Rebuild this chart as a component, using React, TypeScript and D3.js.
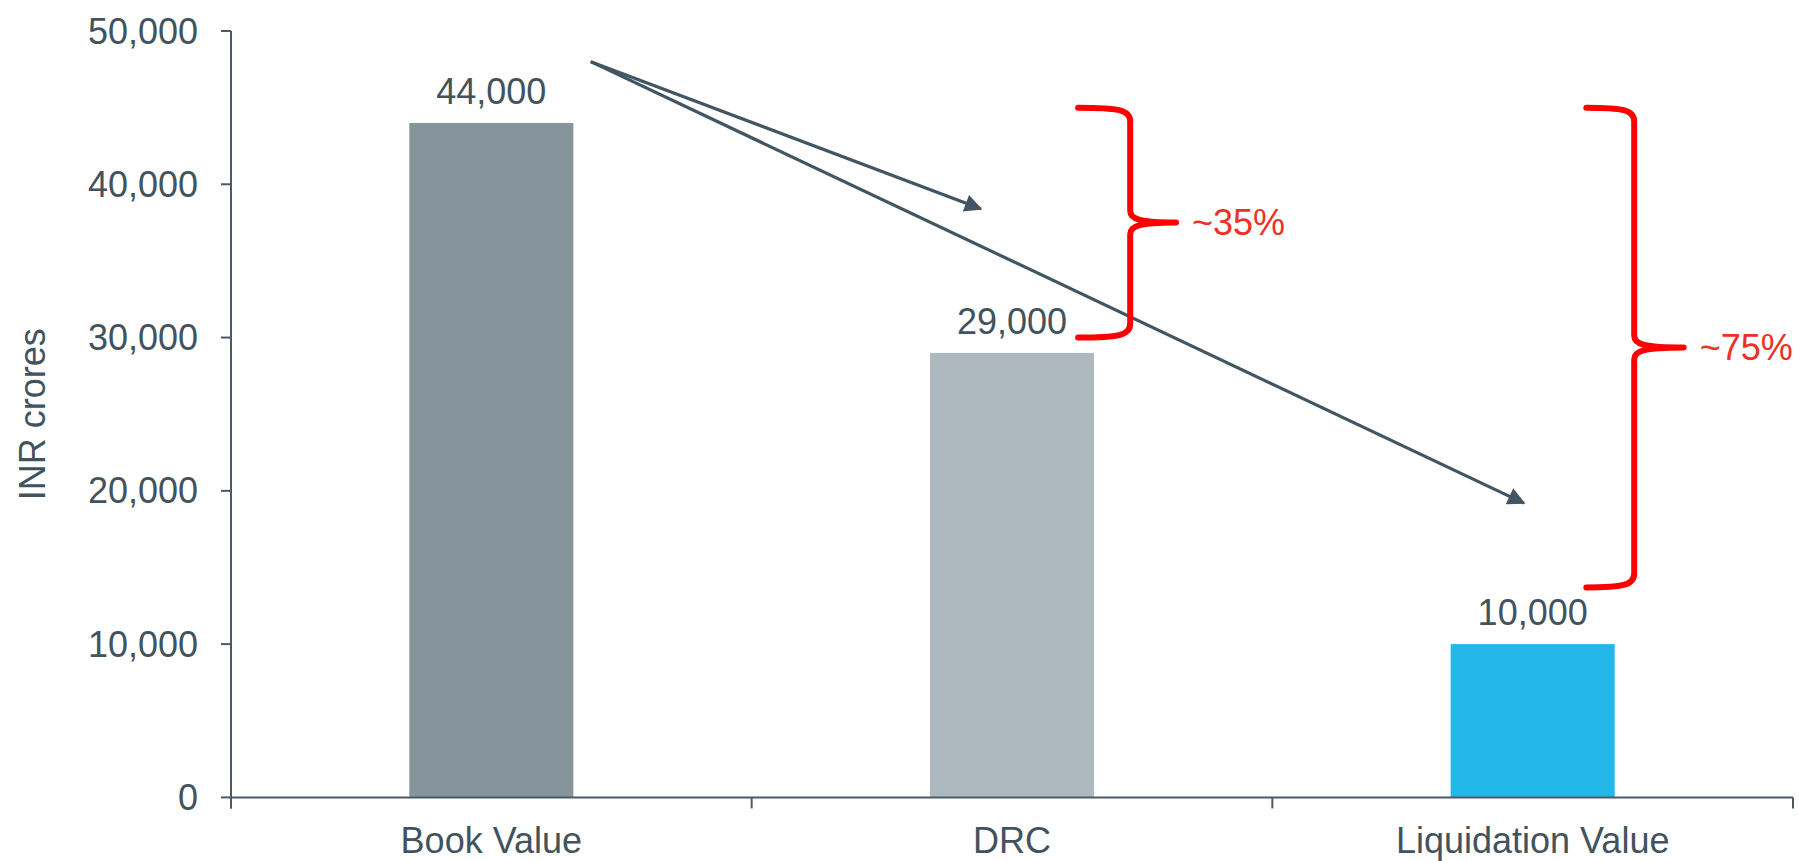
import React from "react";
import * as d3 from "d3";

// Recovery values, INR crores
const categories = ["Book Value", "DRC", "Liquidation Value"];
const values = [44000, 29000, 10000];
const barColors = ["#86949b", "#adb8bf", "#22b6e9"];
const yTicks = [0, 10000, 20000, 30000, 40000, 50000];

// Arrow annotations: anchored to a category band (fraction across band) and a value
const arrowStart = { cat: "Book Value", frac: 0.691, value: 48000 };
const arrowEnds = [
  { cat: "DRC", frac: 0.44, value: 38400 },
  { cat: "Liquidation Value", frac: 0.483, value: 19200 },
];

// Brace annotations with their haircut labels
const braces = [
  { cat: "DRC", endFrac: 0.627, spineFrac: 0.727, tipFrac: 0.815, top: 45000, bottom: 30000, label: "~35%" },
  { cat: "Liquidation Value", endFrac: 0.603, spineFrac: 0.695, tipFrac: 0.79, top: 45000, bottom: 13700, label: "~75%" },
];

const W = 1799;
const H = 861;
const M = { left: 231, right: 6, top: 31, bottom: 63.6 };
const FONT = "'Liberation Sans', Arial, sans-serif";
const TEXT = "#42535e";
const AXIS = "#4a5a66";
const ARROW = "#425563";
const RED = "#ff0000";
const RED_TEXT = "#ee3124";

export default function App() {
  const x = d3.scaleBand<string>().domain(categories).range([M.left, W - M.right]).padding(0);
  const y = d3.scaleLinear().domain([0, 50000]).range([H - M.bottom, M.top]);
  const bw = x.bandwidth();
  const barW = bw * 0.315;
  const fmt = d3.format(",");
  const px = (cat: string, frac: number) => (x(cat) as number) + bw * frac;

  const sx = px(arrowStart.cat, arrowStart.frac);
  const sy = y(arrowStart.value);

  const bracePath = (b: (typeof braces)[number]) => {
    const xe = px(b.cat, b.endFrac);
    const xs = px(b.cat, b.spineFrac);
    const xt = px(b.cat, b.tipFrac);
    const yT = y(b.top);
    const yB = y(b.bottom);
    const yM = (yT + yB) / 2;
    const p = d3.path();
    p.moveTo(xe, yT);
    p.bezierCurveTo(xs - 12, yT, xs, yT + 2, xs, yT + 14);
    p.lineTo(xs, yM - 12);
    p.bezierCurveTo(xs, yM - 3, xs + 10, yM, xt, yM);
    p.moveTo(xt, yM);
    p.bezierCurveTo(xs + 10, yM, xs, yM + 3, xs, yM + 12);
    p.lineTo(xs, yB - 14);
    p.bezierCurveTo(xs, yB - 2, xs - 12, yB, xe, yB);
    return { d: p.toString(), xt, yM };
  };

  const y0 = y(0);
  const xEdges = [...categories.map((c) => x(c) as number), W - M.right];

  return (
    <svg
      width={W}
      height={H}
      style={{ position: "absolute", left: 0, top: 0, background: "#fff" }}
      fontFamily={FONT}
    >
      <defs>
        <marker
          id="arrowHead"
          viewBox="0 0 10 10"
          refX="9"
          refY="5"
          markerWidth="6.5"
          markerHeight="5.5"
          markerUnits="strokeWidth"
          orient="auto"
        >
          <path d="M0,0 L10,5 L0,10 z" fill={ARROW} />
        </marker>
      </defs>

      {/* bars */}
      {categories.map((c, i) => (
        <rect
          key={c}
          x={(x(c) as number) + (bw - barW) / 2}
          y={y(values[i])}
          width={barW}
          height={y0 - y(values[i])}
          fill={barColors[i]}
        />
      ))}

      {/* value labels */}
      {categories.map((c, i) => (
        <text
          key={c}
          x={(x(c) as number) + bw / 2}
          y={y(values[i]) - 19}
          textAnchor="middle"
          fontSize={36}
          fill={TEXT}
        >
          {fmt(values[i])}
        </text>
      ))}

      {/* y axis */}
      <line x1={M.left} x2={M.left} y1={y(50000)} y2={y0 + 11} stroke={AXIS} strokeWidth={2} />
      {yTicks.map((t) => (
        <g key={t}>
          <line x1={M.left - 10} x2={M.left} y1={y(t)} y2={y(t)} stroke={AXIS} strokeWidth={2} />
          <text
            x={M.left - 33}
            y={y(t)}
            dy="0.35em"
            textAnchor="end"
            fontSize={36}
            fill={TEXT}
          >
            {fmt(t)}
          </text>
        </g>
      ))}
      <text
        transform={`translate(${32},${(y(0) + y(50000)) / 2}) rotate(-90)`}
        textAnchor="middle"
        dy="0.35em"
        fontSize={36}
        fill={TEXT}
      >
        INR crores
      </text>

      {/* x axis */}
      <line x1={M.left} x2={W - M.right} y1={y0} y2={y0} stroke={AXIS} strokeWidth={2} />
      {xEdges.map((ex, i) => (
        <line key={i} x1={ex} x2={ex} y1={y0} y2={y0 + 11} stroke={AXIS} strokeWidth={2} />
      ))}
      {categories.map((c) => (
        <text
          key={c}
          x={(x(c) as number) + bw / 2}
          y={y0 + 56}
          textAnchor="middle"
          fontSize={36}
          fill={TEXT}
        >
          {c}
        </text>
      ))}

      {/* decline arrows */}
      {arrowEnds.map((e, i) => (
        <line
          key={i}
          x1={sx}
          y1={sy}
          x2={px(e.cat, e.frac)}
          y2={y(e.value)}
          stroke={ARROW}
          strokeWidth={3.2}
          markerEnd="url(#arrowHead)"
        />
      ))}

      {/* braces */}
      {braces.map((b) => {
        const { d, xt, yM } = bracePath(b);
        return (
          <g key={b.label}>
            <path d={d} fill="none" stroke={RED} strokeWidth={6} strokeLinejoin="round" strokeLinecap="round" />
            <text x={xt + 16} y={yM} dy="0.35em" fontSize={36} fill={RED_TEXT}>
              {b.label}
            </text>
          </g>
        );
      })}
    </svg>
  );
}
